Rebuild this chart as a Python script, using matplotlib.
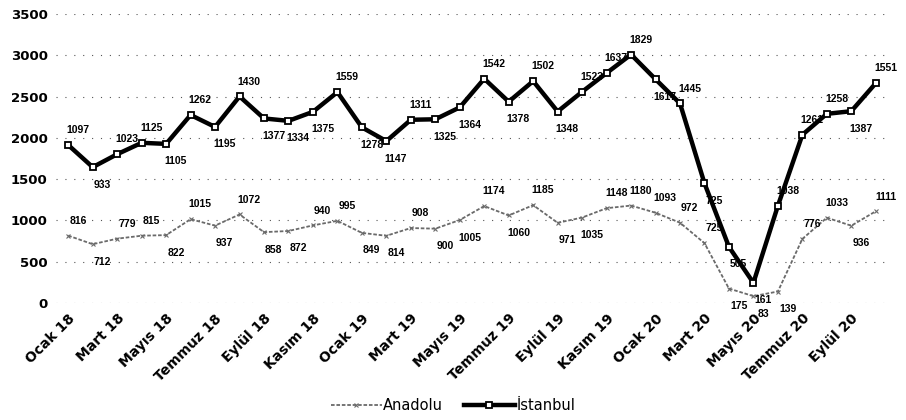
import numpy as np
import matplotlib
matplotlib.use("Agg")
import matplotlib.pyplot as plt

# Monthly figures, Ocak 2018 - Ekim 2020
aylar = ["Ocak", "Şubat", "Mart", "Nisan", "Mayıs", "Haziran",
         "Temmuz", "Ağustos", "Eylül", "Ekim", "Kasım", "Aralık"]
etiketler = [f"{a} {y}" for y in ("18", "19", "20") for a in aylar][:34]

anadolu = [816, 712, 779, 815, 822, 1015, 937, 1072, 858, 872, 940, 995,
           849, 814, 908, 900, 1005, 1174, 1060, 1185, 971, 1035, 1148, 1180,
           1093, 972, 725, 175, 83, 139, 776, 1033, 936, 1111]
istanbul = [1097, 933, 1023, 1125, 1105, 1262, 1195, 1430, 1377, 1334, 1375, 1559,
            1278, 1147, 1311, 1325, 1364, 1542, 1378, 1502, 1348, 1523, 1637, 1829,
            1617, 1445, 725, 505, 161, 1038, 1261, 1258, 1387, 1551]

x = np.arange(len(etiketler))
a = np.array(anadolu)
toplam = a + np.array(istanbul)   # stacked line: İstanbul sits on top of Anadolu

fig = plt.figure(figsize=(9.06, 4.2), dpi=100)
ax = fig.add_axes([56 / 906, 117 / 420, 832 / 906, 289 / 420])

ax.plot(x, a, color="#6a6a6a", lw=1.3, ls=(0, (2, 1)), marker="x", ms=3,
        mew=0.8, label="Anadolu", zorder=3)
ax.plot(x, toplam, color="black", lw=3.2, marker="s", ms=4.5, mfc="white",
        mec="black", mew=1.3, label="İstanbul", zorder=4)


def etiket_yaz(yv, degerler):
    for i, (yy, d) in enumerate(zip(yv, degerler)):
        komsu = [yv[j] for j in (i - 1, i + 1) if 0 <= j < len(yv)]
        ust = yy >= np.mean(komsu)
        ax.annotate(str(d), (x[i], yy), xytext=(7, 7 if ust else -9),
                    textcoords="offset points", ha="center",
                    va="bottom" if ust else "top", fontsize=7.5,
                    fontweight="bold", family="Liberation Sans", zorder=5)


etiket_yaz(a, anadolu)
etiket_yaz(toplam, istanbul)

ax.set_xlim(-0.5, len(x) - 0.5)
ax.set_ylim(0, 3500)
ax.set_yticks(range(0, 3501, 500))
ax.set_xticks(x[::2])
ax.set_xticklabels(etiketler[::2], rotation=45, ha="right",
                   rotation_mode="anchor", fontsize=10, fontweight="bold")
ax.tick_params(length=0, pad=6)
for lbl in ax.get_yticklabels():
    lbl.set_fontsize(9.5)
    lbl.set_fontweight("bold")
ax.yaxis.grid(True, color="#555555", ls=(0, (1, 7)), lw=0.8)
for s in ax.spines.values():
    s.set_visible(False)

fig.legend(loc="lower center", bbox_to_anchor=(0.5, -0.015), ncol=2, frameon=False,
           fontsize=10.5, handlelength=3.5, columnspacing=1.4, handletextpad=0.1)

fig.savefig("out.png", dpi=100)
